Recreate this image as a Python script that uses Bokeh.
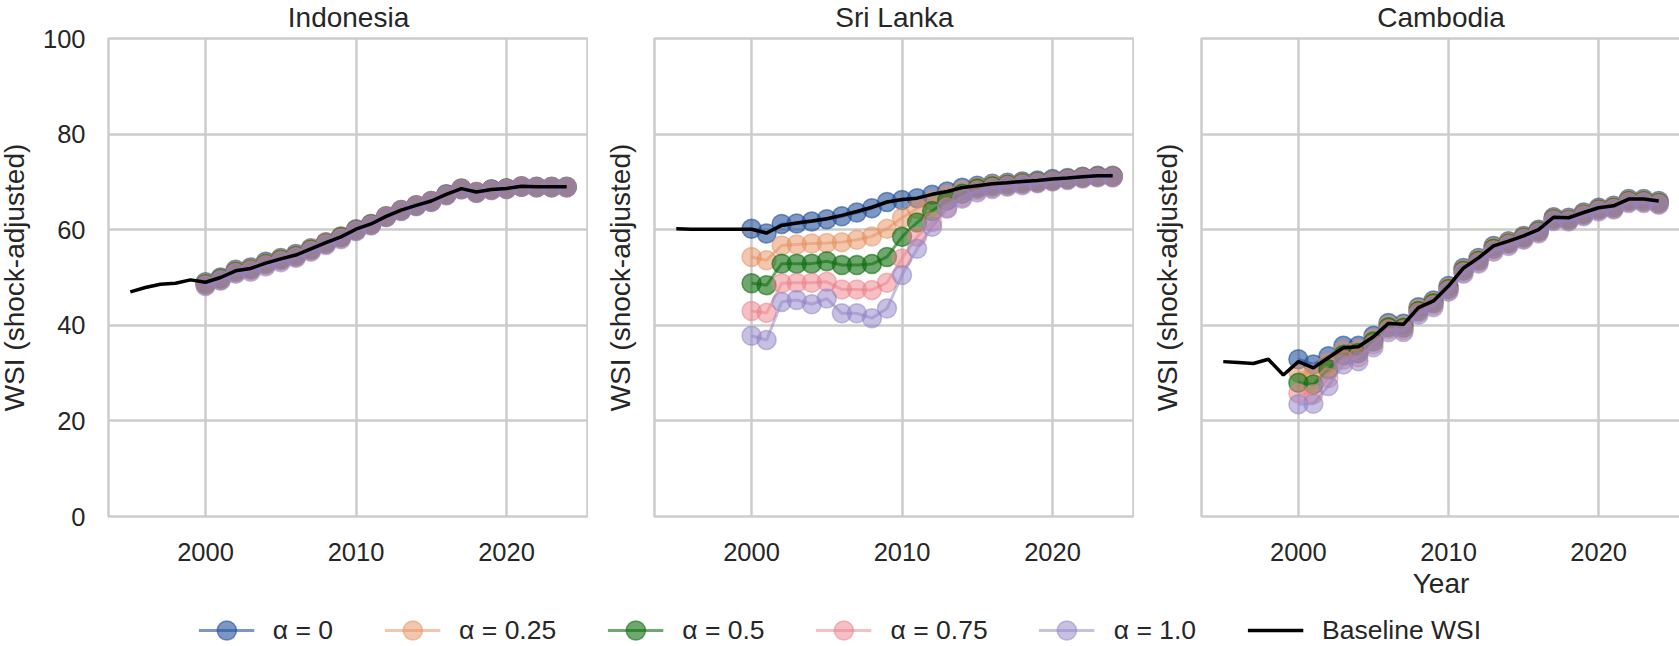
from bokeh.plotting import figure
from bokeh.layouts import column, row
from bokeh.models import Range1d, FixedTicker, Legend, LegendItem, ColumnDataSource, CustomJSTickFormatter
from bokeh.core.properties import value
from bokeh.embed import file_html
from bokeh.resources import INLINE

# ---------------- data ----------------
COUNTRIES = ["Indonesia", "Sri Lanka", "Cambodia"]
BASE_YEARS = list(range(1995, 2025))
SHOCK_YEARS = list(range(2000, 2025))
ALPHA_LABELS = ["α = 0", "α = 0.25", "α = 0.5", "α = 0.75", "α = 1.0"]
BASELINE_LABEL = "Baseline WSI"
X_TICKS = [2000, 2010, 2020]
Y_TICKS = [0, 20, 40, 60, 80, 100]

indonesia_baseline = [47.0, 47.9, 48.6, 48.8, 49.5, 49.0, 50.0, 51.4, 51.9, 53.0,
                      53.9, 54.7, 56.0, 57.3, 58.5, 60.1, 61.2, 62.8, 64.1, 65.1,
                      66.0, 67.4, 68.6, 67.9, 68.4, 68.6, 69.1, 69.0, 69.0, 69.0]
indonesia_a000 = [49.0, 50.0, 51.6, 52.1, 53.3, 54.1, 54.9, 56.1, 57.4, 58.6, 60.1, 61.2, 62.8,
                  64.1, 65.1, 66.0, 67.4, 68.6, 67.9, 68.4, 68.6, 69.1, 69.0, 69.0, 69.0]
indonesia_a025 = [48.8, 49.8, 51.4, 51.9, 53.0, 53.9, 54.7, 56.0, 57.3, 58.5, 60.0, 61.1, 62.8,
                  64.1, 65.1, 66.0, 67.3, 68.6, 67.9, 68.4, 68.6, 69.1, 69.0, 69.0, 69.0]
indonesia_a050 = [48.6, 49.7, 51.2, 51.7, 52.8, 53.7, 54.5, 55.8, 57.1, 58.4, 59.9, 61.1, 62.7,
                  64.0, 65.0, 65.9, 67.3, 68.5, 67.8, 68.4, 68.6, 69.0, 68.9, 68.9, 68.9]
indonesia_a075 = [48.4, 49.5, 51.0, 51.5, 52.6, 53.5, 54.3, 55.6, 57.0, 58.2, 59.8, 61.0, 62.7,
                  64.0, 65.0, 65.9, 67.2, 68.5, 67.8, 68.3, 68.5, 69.0, 68.9, 68.9, 68.9]
indonesia_a100 = [48.2, 49.3, 50.8, 51.2, 52.3, 53.2, 54.1, 55.4, 56.8, 58.0, 59.7, 60.9, 62.6,
                  63.9, 64.9, 65.8, 67.2, 68.4, 67.7, 68.3, 68.5, 69.0, 68.9, 68.9, 68.9]

srilanka_baseline = [60.2, 60.1, 60.1, 60.1, 60.1, 60.1, 59.3, 60.9, 61.4, 61.8,
                     62.3, 63.0, 63.8, 64.7, 65.8, 66.3, 66.6, 67.4, 68.0, 68.8,
                     69.2, 69.6, 69.8, 70.1, 70.3, 70.6, 70.8, 71.1, 71.3, 71.3]
srilanka_a000 = [60.2, 59.2, 61.2, 61.3, 61.7, 62.2, 62.8, 63.6, 64.5, 65.8, 66.2, 66.6, 67.3,
                 68.0, 68.8, 69.2, 69.6, 69.8, 70.1, 70.3, 70.6, 70.8, 71.1, 71.3, 71.3]
srilanka_a025 = [54.3, 53.6, 56.7, 56.9, 57.1, 57.2, 57.4, 57.9, 58.6, 60.2, 62.5, 64.4, 66.1,
                 67.3, 68.2, 68.9, 69.4, 69.6, 69.9, 70.1, 70.4, 70.7, 71.0, 71.2, 71.2]
srilanka_a050 = [48.8, 48.4, 52.9, 52.9, 52.9, 53.4, 52.6, 52.6, 52.8, 54.3, 58.5, 61.5, 63.9,
                 66.1, 67.5, 68.6, 69.1, 69.4, 69.7, 70.0, 70.3, 70.6, 70.9, 71.1, 71.1]
srilanka_a075 = [43.0, 42.6, 48.8, 48.9, 48.9, 49.1, 47.5, 47.5, 47.4, 48.9, 54.0, 58.5, 61.6,
                 64.7, 66.8, 68.2, 68.8, 69.2, 69.5, 69.8, 70.2, 70.5, 70.8, 71.0, 71.0]
srilanka_a100 = [37.8, 36.9, 44.9, 45.3, 44.4, 45.6, 42.5, 42.5, 41.5, 43.5, 50.5, 56.0, 60.6,
                 64.4, 66.5, 67.8, 68.5, 69.0, 69.3, 69.7, 70.1, 70.4, 70.7, 70.9, 70.9]

cambodia_baseline = [32.4, 32.2, 32.0, 32.9, 29.6, 32.4, 31.1, 33.2, 35.3, 35.5,
                     37.6, 40.4, 40.2, 43.7, 45.1, 48.2, 52.0, 54.1, 56.6, 57.6,
                     58.7, 60.0, 62.6, 62.5, 63.6, 64.6, 65.0, 66.4, 66.4, 66.0]
cambodia_a000 = [32.9, 31.8, 33.5, 35.7, 35.7, 37.8, 40.5, 40.3, 43.8, 45.2, 48.2, 52.0, 54.1,
                 56.6, 57.6, 58.7, 60.0, 62.6, 62.5, 63.6, 64.6, 65.0, 66.4, 66.4, 66.0]
cambodia_a025 = [30.2, 29.8, 32.2, 34.7, 34.9, 37.2, 40.0, 39.9, 43.4, 44.9, 47.9, 51.7, 53.8,
                 56.3, 57.4, 58.5, 59.8, 62.4, 62.3, 63.4, 64.4, 64.8, 66.2, 66.2, 65.8]
cambodia_a050 = [28.0, 27.6, 30.8, 33.8, 34.2, 36.6, 39.6, 39.5, 43.0, 44.6, 47.6, 51.4, 53.5,
                 56.0, 57.1, 58.3, 59.6, 62.2, 62.1, 63.2, 64.2, 64.6, 66.0, 66.0, 65.6]
cambodia_a075 = [25.8, 25.6, 29.0, 32.8, 33.3, 36.0, 39.1, 39.0, 42.6, 44.2, 47.3, 51.1, 53.2,
                 55.7, 56.9, 58.1, 59.4, 62.0, 61.9, 63.0, 64.0, 64.4, 65.8, 65.8, 65.4]
cambodia_a100 = [23.5, 23.6, 27.3, 31.8, 32.5, 35.4, 38.6, 38.6, 42.2, 43.8, 47.0, 50.8, 52.9,
                 55.4, 56.6, 57.9, 59.2, 61.8, 61.7, 62.8, 63.8, 64.2, 65.6, 65.6, 65.2]

BASELINES = [indonesia_baseline, srilanka_baseline, cambodia_baseline]
SERIES = [
    [indonesia_a000, indonesia_a025, indonesia_a050, indonesia_a075, indonesia_a100],
    [srilanka_a000, srilanka_a025, srilanka_a050, srilanka_a075, srilanka_a100],
    [cambodia_a000, cambodia_a025, cambodia_a050, cambodia_a075, cambodia_a100],
]

# ---------------- style ----------------
FONT = "Liberation Sans"
TEXT = "#262626"
GRID = "#cccccc"
COLORS = ["#24519c", "#e58f5e", "#0f6e0f", "#ec7f8a", "#8f82c6"]
ALPHAS = [0.6, 0.5, 0.6, 0.5, 0.5]
MARKER = 19
TICK_FS = "25.5px"
LABEL_FS = "28px"
LEGEND_FS = "26.5px"

FRAME_W = [480, 480, 479]
BORDER_L = [108, 66, 67]
BORDER_R = [0, 0, 4]
MARGINS = [(-7, 0, 0, -5), (-7, 0, 0, 0), (-7, 0, 0, 0)]


def make_panel(i):
    p = figure(frame_width=FRAME_W[i], frame_height=478,
               x_range=Range1d(1993.55, 2025.45), y_range=Range1d(0, 100),
               output_backend="svg", toolbar_location=None, title=COUNTRIES[i],
               min_border_left=BORDER_L[i], min_border_right=BORDER_R[i],
               min_border_top=45, min_border_bottom=92)
    p.margin = MARGINS[i]
    p.title.text_font = FONT
    p.title.text_font_size = LABEL_FS
    p.title.text_font_style = "normal"
    p.title.text_color = TEXT
    p.title.align = "center"
    p.title.standoff = 11

    p.outline_line_color = GRID
    p.outline_line_width = 2.5
    p.background_fill_color = "white"
    p.border_fill_color = "white"
    p.grid.grid_line_color = GRID
    p.grid.grid_line_width = 2.5
    p.xaxis.ticker = FixedTicker(ticks=X_TICKS)
    p.yaxis.ticker = FixedTicker(ticks=Y_TICKS)
    for ax in p.axis:
        ax.axis_line_color = None
        ax.major_tick_line_color = None
        ax.minor_tick_line_color = None
        ax.major_tick_out = 0
        ax.major_tick_in = 0
        ax.major_label_text_font = FONT
        ax.major_label_text_font_size = TICK_FS
        ax.major_label_text_color = TEXT
        ax.axis_label_text_font = FONT
        ax.axis_label_text_font_size = LABEL_FS
        ax.axis_label_text_font_style = "normal"
        ax.axis_label_text_color = TEXT
    p.xaxis.major_label_standoff = 26
    p.yaxis.axis_label = "WSI (shock-adjusted)"
    if i == 0:
        p.yaxis.major_label_standoff = 23
        p.yaxis.axis_label_standoff = 10
    else:
        p.yaxis.formatter = CustomJSTickFormatter(code="return ''")
        p.yaxis.major_label_standoff = 0
        p.yaxis.axis_label_standoff = 19
    if i == 2:
        p.xaxis.axis_label = "Year"
        p.xaxis.axis_label_standoff = 4

    for k in range(5):
        src = ColumnDataSource(dict(x=SHOCK_YEARS, y=SERIES[i][k]))
        p.line("x", "y", source=src, line_color=COLORS[k], line_width=3,
               line_alpha=ALPHAS[k])
        p.scatter("x", "y", source=src, size=MARKER, fill_color=COLORS[k],
                  fill_alpha=ALPHAS[k], line_color=COLORS[k],
                  line_alpha=ALPHAS[k], line_width=1.5)
    bsrc = ColumnDataSource(dict(x=BASE_YEARS, y=BASELINES[i]))
    p.line("x", "y", source=bsrc, line_color="black", line_width=3.5)
    return p


panels = [make_panel(i) for i in range(3)]

# ---------------- legend strip ----------------
leg = figure(width=1679, height=46, x_range=Range1d(0, 1), y_range=Range1d(0, 1),
             output_backend="svg", toolbar_location=None, min_border=0,
             outline_line_color=None)
leg.margin = (-5, 0, 0, 0)
leg.background_fill_alpha = 0
leg.border_fill_alpha = 0
leg.axis.visible = False
leg.grid.visible = False
items = []
for k in range(5):
    src = ColumnDataSource(dict(x=[-10], y=[-10]))
    lr = leg.line("x", "y", source=src, line_color=COLORS[k], line_width=3,
                  line_alpha=ALPHAS[k])
    sr = leg.scatter("x", "y", source=src, size=MARKER, fill_color=COLORS[k],
                     fill_alpha=ALPHAS[k], line_color=COLORS[k],
                     line_alpha=ALPHAS[k], line_width=1.5)
    items.append(LegendItem(label=value(ALPHA_LABELS[k]), renderers=[lr, sr]))
bsrc = ColumnDataSource(dict(x=[-10], y=[-10]))
br = leg.line("x", "y", source=bsrc, line_color="black", line_width=3.5)
items.append(LegendItem(label=value(BASELINE_LABEL), renderers=[br]))

legend = Legend(items=items, orientation="horizontal", location="top_center",
                border_line_color=None, background_fill_alpha=0,
                label_text_font=FONT, label_text_font_size=LEGEND_FS,
                label_text_color=TEXT, glyph_width=56, glyph_height=48,
                label_standoff=19, spacing=51, padding=0, margin=3)
leg.add_layout(legend, "center")

layout = column(row(*panels, spacing=0), leg, spacing=0)
open("out.html", "w").write(file_html(layout, INLINE))
